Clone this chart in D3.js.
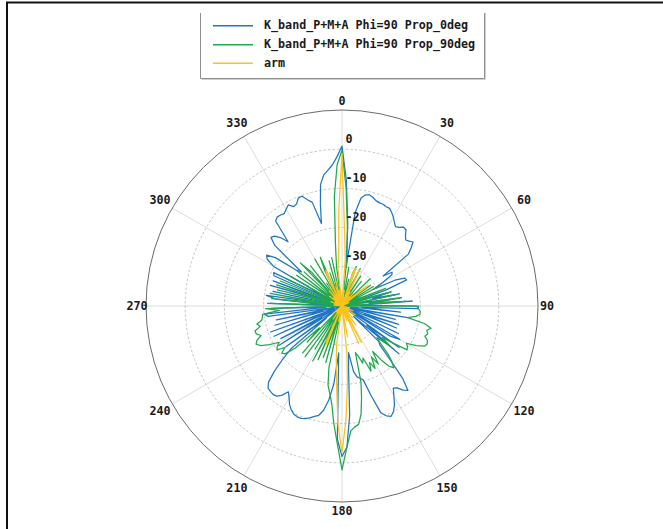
<!DOCTYPE html>
<html>
<head>
<meta charset="utf-8">
<script src="https://cdn.jsdelivr.net/npm/d3@7"></script>
<style>
  html, body { margin: 0; padding: 0; background: #fff; }
  svg { display: block; }
  text { font-family: "DejaVu Sans Mono", monospace; font-weight: bold; }
</style>
</head>
<body>
<div id="chart"></div>
<script>
// ---- data -------------------------------------------------------------
const seriesNames = [
  "K_band_P+M+A Phi=90 Prop_0deg",
  "K_band_P+M+A Phi=90 Prop_90deg",
  "arm"
];
const angleTicks = [0, 30, 60, 90, 120, 150, 180, 210, 240, 270, 300, 330];
const radialTicks = [-30, -20, -10, 0];
const radialTickLabels = ["-30", "-20", "-10", "0"];
// sampling angles (degrees), every 2 degrees
const angles = d3.range(0, 360, 2);

// Prop_0deg (dB)
const prop0 = [
  0.8, -8, -19, -30, -16, -12, -11, -10.8, -11.2, -11.8,
  -12, -12, -12.3, -12.3, -13, -13.8, -14.8, -15.6, -15.2, -14.5,
  -14.6, -15.8, -16.6, -16.2, -15.6, -17, -18.5, -27, -24.6, -25,
  -28, -31, -25, -22.5, -22.2, -28, -38, -27, -32, -25,
  -37, -24.7, -33, -22, -36, -20.5, -20.5, -35, -25, -40,
  -23, -36, -26, -40, -24.8, -34, -25, -40, -24, -38,
  -23, -25.5, -40, -22, -32, -21, -36, -27, -26, -22,
  -16, -12.7, -13.5, -14.8, -15.3, -13.5, -11.5, -10, -9.2, -9.8,
  -11, -16, -20.4, -21, -21.5, -23, -28, -24, -12, -4,
  -1.6, -6, -28, -20, -15.8, -13, -11.5, -11, -10.3, -9.8,
  -9.5, -9.5, -9.8, -10.5, -11.5, -13, -14.2, -12.5, -11.6, -11.4,
  -11.6, -11.8, -13, -16, -19.5, -23, -35, -22.3, -40, -21,
  -34, -22.3, -38, -21, -36, -20.6, -40, -22.2, -35, -22.9,
  -38, -21, -20.1, -36, -22, -40, -21.6, -36, -23, -20.5,
  -38, -22, -40, -21, -34, -21.3, -39, -21, -20.6, -36,
  -20, -17.5, -16.8, -19, -25, -26.5, -17, -14.8, -15.2, -16.5,
  -18.6, -12.5, -11.9, -12, -12.2, -11.5, -10.8, -11.8, -11.5, -10.3,
  -10.2, -11.5, -12.5, -18.3, -13.5, -8.5, -6.3, -5.2, -4, -2
];

// Prop_90deg (dB)
const prop90 = [
  -0.2, -10, -20, -28, -40, -30, -40, -33, -40, -31,
  -29.3, -40, -34, -29.4, -40, -37, -31, -40, -40, -32,
  -40, -36, -40, -30, -40, -34, -40, -31, -40, -30.6,
  -40, -29, -40, -35, -28, -40, -33, -27, -40, -26,
  -40, -25, -32, -23.5, -40, -21, -20.5, -20, -20, -21,
  -23, -18.5, -16.6, -17.5, -17, -17.5, -16.5, -16.2, -16.6, -18.5,
  -21, -20.3, -20, -24, -27, -24, -28, -26.4, -23.4, -21,
  -19.4, -20.5, -23, -26, -22.5, -25, -22, -24, -21.8, -25.7,
  -24.5, -26.5, -27.6, -20, -16, -12, -9.5, -9, -8, -4,
  1.8, -5, -10, -15, -17.5, -19.5, -24, -40, -25, -36,
  -26, -40, -25, -34, -24.1, -40, -27, -38, -24, -40,
  -24.4, -40, -27.2, -32, -24, -21, -20.5, -22, -20, -20.5,
  -21.5, -19, -17, -16, -16.6, -18, -17, -16.9, -18.5, -17.8,
  -19.2, -19.5, -19.6, -24, -20.5, -40, -21, -40, -22, -34,
  -21.4, -40, -23, -36, -22.5, -40, -23, -40, -24, -40,
  -25, -40, -26, -38, -25.5, -40, -27, -40, -24.7, -28.3,
  -40, -27, -40, -33, -40, -26.2, -40, -30, -26.4, -40,
  -31, -40, -28, -40, -27.4, -40, -30, -24, -12, -4
];

// arm (dB)
const arm = [
  -1.1, -21, -28, -40, -36, -40, -40, -38, -40, -31,
  -29.8, -40, -38, -29.8, -40, -36, -40, -40, -37, -40,
  -40, -36, -40, -40, -38, -34, -31.5, -40, -40, -40,
  -40, -40, -38, -40, -40, -40, -40, -40, -40, -40,
  -40, -40, -40, -40, -40, -40, -40, -40, -40, -40,
  -40, -40, -38, -40, -40, -40, -40, -37, -40, -40,
  -40, -40, -36, -40, -40, -40, -38, -40, -40, -36,
  -40, -40, -34, -40, -40, -36, -29.5, -40, -29.6, -40,
  -40, -36, -40, -38, -40, -32, -40, -28, -20, -11,
  -2.5, -10, -20, -26, -30, -40, -36, -40, -40, -38,
  -40, -29.5, -30, -40, -38, -40, -40, -36, -40, -40,
  -40, -38, -40, -40, -40, -37, -40, -40, -40, -40,
  -40, -40, -40, -40, -40, -40, -40, -40, -40, -40,
  -40, -40, -40, -40, -40, -40, -40, -40, -38, -40,
  -40, -40, -38, -40, -40, -40, -37, -40, -40, -40,
  -40, -38, -40, -40, -36, -40, -40, -37, -40, -40,
  -35, -40, -40, -37, -34.2, -40, -40, -31, -30, -40,
  -40, -35, -40, -33, -40, -36, -40, -30, -28, -16
];

const colors = ["#1f77c4", "#22a84c", "#fcc21b"];

// ---- drawing ----------------------------------------------------------
const W = 663, H = 529;
const cx = 342, cy = 306, R = 196;

const svg = d3.select("#chart").append("svg")
  .attr("width", W).attr("height", H);
svg.append("rect").attr("width", W).attr("height", H).attr("fill", "#fff");

// figure frame (partly cropped)
svg.append("path")
  .attr("d", `M7,${H} V2.5 H${W}`)
  .attr("fill", "none").attr("stroke", "#111").attr("stroke-width", 2);

const r = d3.scaleLinear().domain([-40, 10]).range([0, R]).clamp(true);
const toRad = d => d * Math.PI / 180;

const g = svg.append("g").attr("transform", `translate(${cx},${cy})`);

// angular grid lines
g.selectAll("line.spoke").data(angleTicks).join("line")
  .attr("class", "spoke")
  .attr("x1", 0).attr("y1", 0)
  .attr("x2", d => R * Math.sin(toRad(d)))
  .attr("y2", d => -R * Math.cos(toRad(d)))
  .attr("stroke", "#dcdcdc").attr("stroke-width", 1);

// radial grid rings (dashed)
g.selectAll("circle.ring").data(radialTicks).join("circle")
  .attr("class", "ring")
  .attr("r", d => r(d))
  .attr("fill", "none")
  .attr("stroke", "#b5b5b5").attr("stroke-width", 0.8)
  .attr("stroke-dasharray", "2.5,2");

// outer circle
g.append("circle").attr("r", R).attr("fill", "none")
  .attr("stroke", "#6a6a6a").attr("stroke-width", 1);

// series
const line = d3.lineRadial()
  .angle((d, i) => toRad(angles[i]))
  .radius(d => r(d))
  .curve(d3.curveLinearClosed);

[prop0, prop90, arm].forEach((vals, k) => {
  g.append("path")
    .datum(vals)
    .attr("d", line)
    .attr("fill", "none")
    .attr("stroke", colors[k])
    .attr("stroke-width", 1.25)
    .attr("stroke-linejoin", "round");
});

// angle labels
g.selectAll("text.ang").data(angleTicks).join("text")
  .attr("class", "ang")
  .attr("x", d => (205 + 6 * Math.abs(Math.sin(toRad(2 * d)))) * Math.sin(toRad(d)))
  .attr("y", d => -(205 + 6 * Math.abs(Math.sin(toRad(2 * d)))) * Math.cos(toRad(d)))
  .attr("text-anchor", "middle")
  .attr("dominant-baseline", "middle")
  .attr("font-size", 11.7)
  .attr("fill", "#1a1a1a")
  .text(d => d);

// radial labels
g.selectAll("text.rad").data(radialTicks).join("text")
  .attr("class", "rad")
  .attr("x", 3.5)
  .attr("y", d => -r(d) - 10)
  .attr("text-anchor", "start")
  .attr("dominant-baseline", "middle")
  .attr("font-size", 11.7)
  .attr("fill", "#1a1a1a")
  .text((d, i) => radialTickLabels[i]);

// legend
const leg = svg.append("g");
leg.append("path")
  .attr("d", "M200.5,13 V78.5 H484.5 V13")
  .attr("fill", "none").attr("stroke", "#8e8e8e").attr("stroke-width", 1);
leg.append("path")
  .attr("d", "M201.5,79.5 H485.5 V13")
  .attr("fill", "none").attr("stroke", "#d0d0d0").attr("stroke-width", 1);
const legY = [25.7, 44.7, 63.3];
seriesNames.forEach((name, k) => {
  leg.append("line")
    .attr("x1", 213).attr("x2", 253)
    .attr("y1", legY[k]).attr("y2", legY[k])
    .attr("stroke", colors[k]).attr("stroke-width", 1.4);
  leg.append("text")
    .attr("x", 264).attr("y", legY[k])
    .attr("dominant-baseline", "middle")
    .attr("font-size", 11.7)
    .attr("fill", "#1a1a1a")
    .text(name);
});
</script>
</body>
</html>
